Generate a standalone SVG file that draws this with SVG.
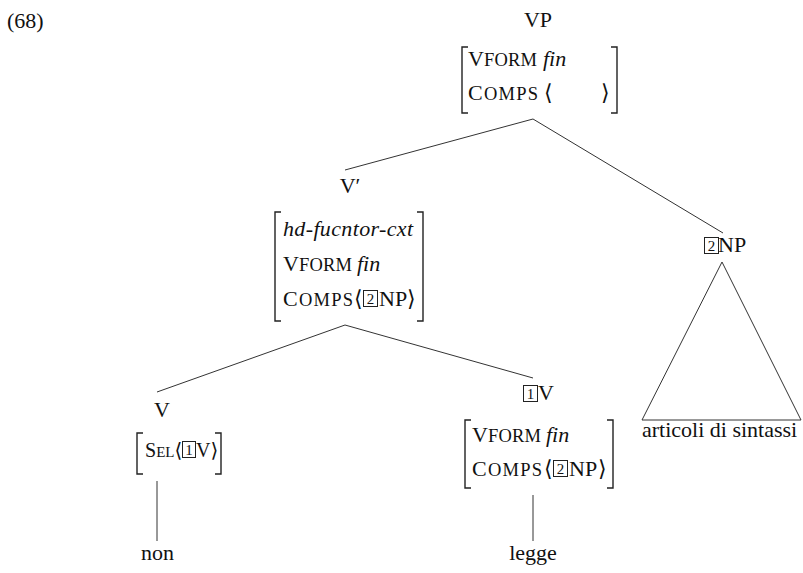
<svg xmlns="http://www.w3.org/2000/svg" width="803" height="573" viewBox="0 0 803 573">
<style>
  text { font-family: "Liberation Serif", "Times New Roman", "DejaVu Serif", serif; font-size: 22px; fill: #111; }
  .sc { font-size: 18.5px; }
  .it { font-style: italic; }
  .ang { font-family: "DejaVu Serif", "Liberation Serif", serif; font-size: 22px; }
  .num { font-size: 15px; text-anchor: middle; }
  .mid { text-anchor: middle; }
  .br { fill: none; stroke: #222; stroke-width: 1.4; }
  .box { fill: none; stroke: #222; stroke-width: 1; }
  .edge { fill: none; stroke: #333; stroke-width: 1; }
  .s20 { font-size: 20px; }
</style>
<text x="7" y="28">(68)</text>

<g id="connectors">
  <line class="edge" x1="533" y1="119" x2="345" y2="170"/>
  <line class="edge" x1="533" y1="119" x2="723" y2="233"/>
  <line class="edge" x1="345" y1="325" x2="157" y2="392"/>
  <line class="edge" x1="345" y1="325" x2="533" y2="378"/>
  <line class="edge" x1="157" y1="481" x2="157" y2="541"/>
  <line class="edge" x1="533" y1="495" x2="533" y2="541"/>
</g>

<g id="vp">
  <text class="mid" x="538" y="27">VP</text>
  <path class="br" d="M468 47 H462 V113 H468"/>
  <path class="br" d="M611 47 H617 V113 H611"/>
  <text x="468" y="66" textLength="69">V<tspan class="sc">FORM</tspan></text>
  <text class="it" x="543" y="66">fin</text>
  <text x="468" y="100" textLength="70">C<tspan class="sc">OMPS</tspan></text>
  <text class="ang" x="544" y="100">⟨</text>
  <text class="ang" x="601" y="100">⟩</text>
</g>

<g id="vbar">
  <text class="mid" x="350" y="193">V′</text>
  <path class="br" d="M281 212 H275 V321 H281"/>
  <path class="br" d="M417 212 H423 V321 H417"/>
  <text class="it" x="283" y="236" textLength="130">hd-fucntor-cxt</text>
  <text x="283" y="271" textLength="69">V<tspan class="sc">FORM</tspan></text>
  <text class="it" x="357" y="271">fin</text>
  <text x="283" y="306" textLength="70">C<tspan class="sc">OMPS</tspan></text>
  <text class="ang" x="354" y="306">⟨</text>
  <rect class="box" x="363.5" y="290.5" width="14" height="16"/>
  <text class="num" x="370.5" y="304">2</text>
  <text x="379" y="306">NP</text>
  <text class="ang" x="407" y="306">⟩</text>
</g>

<g id="v">
  <text class="mid" x="162" y="417">V</text>
  <path class="br" d="M143 433 H137 V474 H143"/>
  <path class="br" d="M215 433 H221 V474 H215"/>
  <text x="145" y="457"><tspan class="s20">S</tspan><tspan style="font-size:15px">EL</tspan></text>
  <text class="ang s20" x="174.5" y="457">⟨</text>
  <rect class="box" x="182.5" y="441.5" width="13" height="16"/>
  <text class="num" x="189" y="455">1</text>
  <text class="s20" x="196" y="457">V</text>
  <text class="ang s20" x="210.5" y="457">⟩</text>
</g>

<g id="non">
  <text class="mid" x="157.5" y="560">non</text>
</g>

<g id="v1">
  <rect class="box" x="523.5" y="385.5" width="14" height="16"/>
  <text class="num" x="530.5" y="399">1</text>
  <text x="538" y="400">V</text>
  <path class="br" d="M471 420 H465 V488 H471"/>
  <path class="br" d="M607 420 H613 V488 H607"/>
  <text x="472" y="442" textLength="69">V<tspan class="sc">FORM</tspan></text>
  <text class="it" x="546" y="442">fin</text>
  <text x="472" y="476" textLength="70">C<tspan class="sc">OMPS</tspan></text>
  <text class="ang" x="544" y="476">⟨</text>
  <rect class="box" x="553.5" y="460.5" width="14" height="16"/>
  <text class="num" x="560.5" y="474">2</text>
  <text x="569" y="476">NP</text>
  <text class="ang" x="598" y="476">⟩</text>
</g>

<g id="legge">
  <text class="mid" x="533" y="560">legge</text>
</g>

<g id="np">
  <rect class="box" x="704.5" y="237.5" width="14" height="16"/>
  <text class="num" x="711.5" y="251">2</text>
  <text x="718" y="252">NP</text>
  <path class="edge" d="M722 262 L642 420 H801 Z"/>
  <text x="642" y="437">articoli di sintassi</text>
</g>
</svg>
